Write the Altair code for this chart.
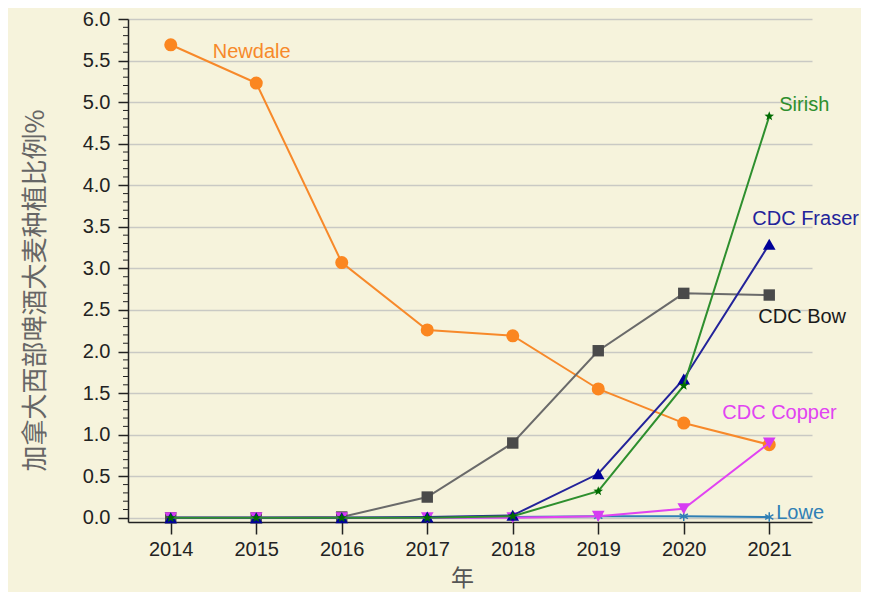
import math
import altair as alt
import pandas as pd

years = [2014, 2015, 2016, 2017, 2018, 2019, 2020, 2021]
newdale = [5.69, 5.23, 3.07, 2.26, 2.19, 1.55, 1.14, 0.88]
cdc_bow = [0.0, 0.0, 0.01, 0.25, 0.90, 2.01, 2.70, 2.68]
lowe = [0.0, 0.0, 0.0, 0.0, 0.01, 0.02, 0.02, 0.01]
cdc_copper = [0.0, 0.0, 0.0, 0.0, 0.0, 0.02, 0.11, 0.90]
cdc_fraser = [0.0, 0.0, 0.0, 0.01, 0.03, 0.53, 1.67, 3.29]
sirish = [0.0, 0.0, 0.0, 0.0, 0.02, 0.32, 1.59, 4.83]

y_ticks = [0.0, 0.5, 1.0, 1.5, 2.0, 2.5, 3.0, 3.5, 4.0, 4.5, 5.0, 5.5, 6.0]
minor_ticks = [round(i * 0.1, 1) for i in range(61) if i % 5 != 0]

# star path
pts = []
for k in range(10):
    r = 1.0 if k % 2 == 0 else 0.42
    a = -math.pi / 2 + k * math.pi / 5
    pts.append(f"{r*math.cos(a):.3f},{r*math.sin(a):.3f}")
STAR = "M" + "L".join(pts) + "Z"
ASTERISK = "M0,-1L0,1M-0.87,-0.5L0.87,0.5M-0.87,0.5L0.87,-0.5"

FONT = "Liberation Sans"
CJK = "Noto Sans CJK SC"

xenc = alt.X(
    "year:Q",
    scale=alt.Scale(domain=[2013.5, 2021.5], nice=False, zero=False),
    axis=alt.Axis(
        values=years, format="d", grid=False, tickSize=12, tickWidth=1.5,
        tickColor="#222", domainColor="#222", domainWidth=1.5,
        labelFontSize=20, labelFont=FONT, labelColor="#222", labelPadding=5,
        title="年", titleFont=CJK, titleFontSize=23, titleFontWeight="normal",
        titleColor="#555", titleX=334, titleY=56, titleBaseline="middle",
        titleAnchor="start", titleAlign="center",
    ),
)
yenc = alt.Y(
    "value:Q",
    scale=alt.Scale(domain=[-0.05, 6.0], nice=False, zero=False),
    axis=alt.Axis(
        values=y_ticks, format=".1f", grid=True, gridColor="#c9c9c4", gridWidth=1.5,
        tickSize=10, tickWidth=1.5, tickColor="#222", domainColor="#222", domainWidth=1.5,
        labelFontSize=20, labelFont=FONT, labelColor="#222", labelPadding=8,
        title="加拿大西部啤酒大麦种植比例%", titleFont=CJK, titleFontSize=26,
        titleFontWeight="normal", titleColor="#666", titleAngle=-90,
        titleX=-93, titleY=271, titleAlign="center", titleBaseline="middle",
    ),
)

series = [
    # name, values, line colour, point colour, shape, size, label anchor idx, dx, dy
    ("Newdale", newdale, "#f7892a", "#fb8620", "circle", 170, 0, 42, 7),
    ("CDC Bow", cdc_bow, "#6a6a6a", "#4a4a4a", "square", 130, 7, -11, 22),
    ("Lowe", lowe, "#2f7fb5", "#2f7fb5", ASTERISK, 90, 7, 7, -4),
    ("CDC Copper", cdc_copper, "#e143f2", "#d63cf2", "triangle-down", 160, 7, -47, -30),
    ("CDC Fraser", cdc_fraser, "#23239a", "#000099", "triangle-up", 160, 7, -17, -25),
    ("Sirish", sirish, "#2e8f2e", "#006b00", STAR, 100, 7, 10, -11),
]
label_colors = {
    "Newdale": "#f7892a", "CDC Bow": "#1a1a1a", "Lowe": "#2f7fb5",
    "CDC Copper": "#e143f2", "CDC Fraser": "#23239a", "Sirish": "#2e8f2e",
}

minor_df = pd.DataFrame({"value": minor_ticks})
layers = [
    alt.Chart(minor_df).mark_rule(color="#222", strokeWidth=1).encode(
        y=yenc, x=alt.value(-5), x2=alt.value(0)
    )
]

for name, vals, lc, pc, shape, size, ai, dx, dy in series:
    df = pd.DataFrame({"year": years, "value": vals, "series": name})
    layers.append(alt.Chart(df).mark_line(color=lc, strokeWidth=2).encode(x=xenc, y=yenc))
    if shape == ASTERISK:
        layers.append(alt.Chart(df).mark_point(shape=shape, filled=False, size=size,
                                               color=pc, strokeWidth=1.5, opacity=1)
                      .encode(x=xenc, y=yenc))
    else:
        layers.append(alt.Chart(df).mark_point(shape=shape, filled=True, size=size,
                                               color=pc, opacity=1)
                      .encode(x=xenc, y=yenc))

for name, vals, lc, pc, shape, size, ai, dx, dy in series:
    ldf = pd.DataFrame({"year": [years[ai]], "value": [vals[ai]], "label": [name]})
    layers.append(
        alt.Chart(ldf).mark_text(align="left", baseline="middle", dx=dx, dy=dy,
                                 font=FONT, fontSize=20, color=label_colors[name])
        .encode(x=xenc, y=yenc, text="label:N")
    )

chart = alt.layer(*layers).properties(
    width=684, height=503,
    autosize=alt.AutoSizeParams(type="none"),
    padding={"left": 120, "top": 11, "right": 49, "bottom": 70},
    background="#f6f3dc",
).configure_view(stroke=None)

chart.save("out.html", embed_options={"renderer": "svg", "actions": False})
